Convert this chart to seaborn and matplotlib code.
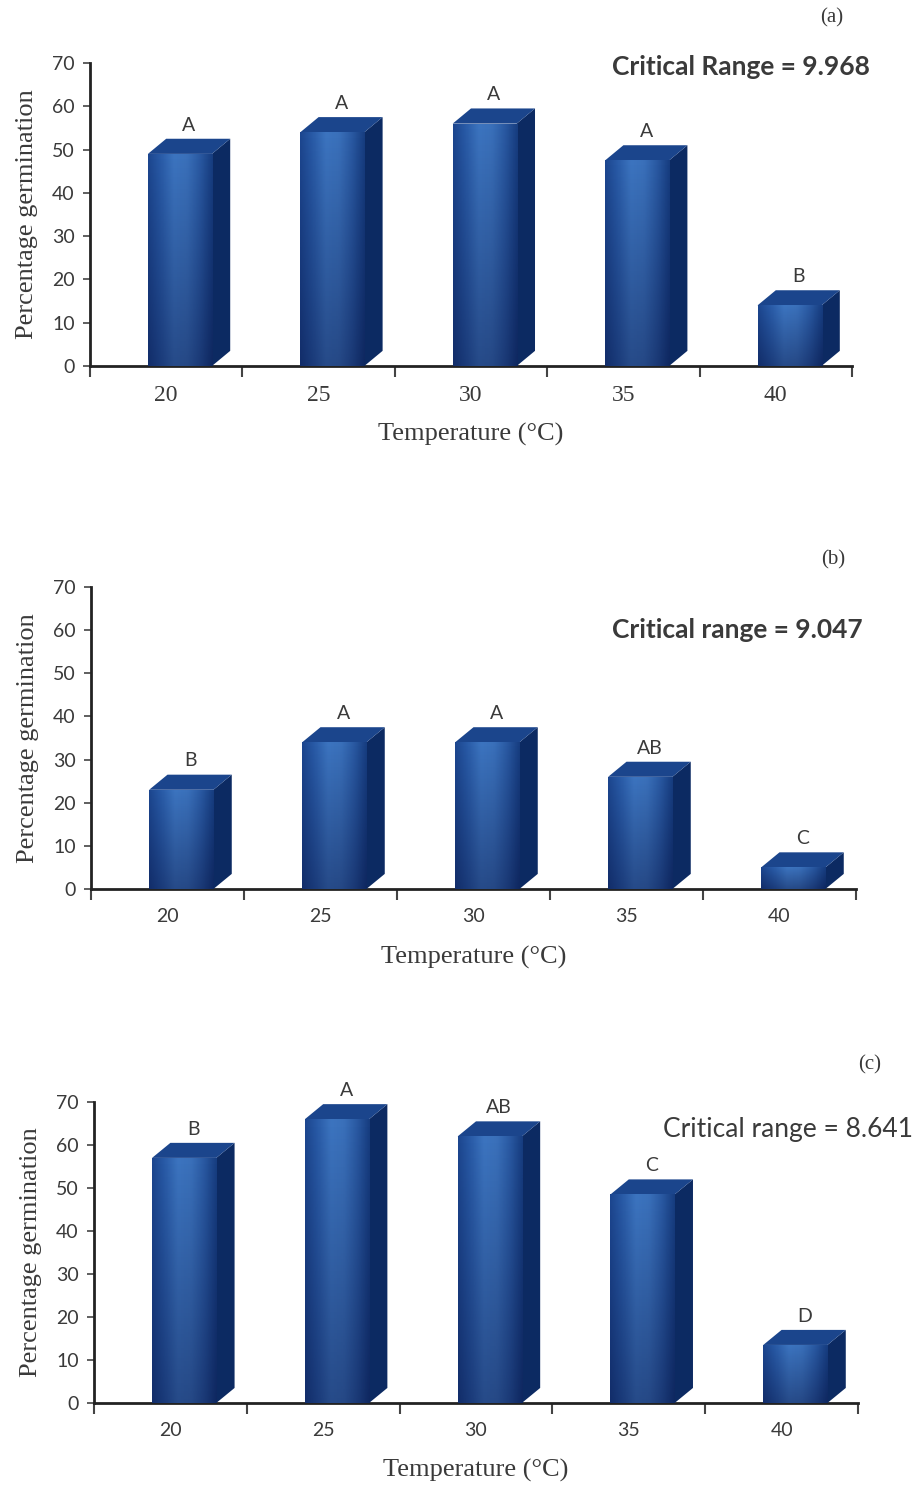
import numpy as np
import pandas as pd
import matplotlib
matplotlib.use("Agg")
import matplotlib.pyplot as plt
from matplotlib.patches import Polygon
from matplotlib.colors import LinearSegmentedColormap
import seaborn as sns

# ---- data ----
temperatures = ["20", "25", "30", "35", "40"]
germ_a = [49, 54, 56, 47.5, 14]
germ_b = [23, 34, 34, 26, 5]
germ_c = [57, 66, 62, 48.5, 13.5]
letters_a = ["A", "A", "A", "A", "B"]
letters_b = ["B", "A", "A", "AB", "C"]
letters_c = ["B", "A", "AB", "C", "D"]
panel_tags = ["(a)", "(b)", "(c)"]
critical_texts = ["Critical Range = 9.968", "Critical range = 9.047", "Critical range = 8.641"]
y_ticks = [0, 10, 20, 30, 40, 50, 60, 70]

sns.set_theme(style="white")
plt.rcParams['font.family'] = ['DejaVu Sans']

FRONT = "#2b5da8"
SIDE = "#0c2a62"
TOP = "#1b458c"
TXT = "#3a3a3a"
SERIF = "Liberation Serif"
SANS = "Lato"

front_cmap = LinearSegmentedColormap.from_list(
    "front", ["#1c468f", "#2a5ca8", "#3c74bf", "#3a70ba", "#2a5aa3", "#173d80"])

fig = plt.figure(figsize=(9.16, 14.86), dpi=100)
fig.patch.set_facecolor("white")

W, H = 916, 1486
boxes = [(90, 852, 366, 63), (91, 856, 889, 587), (94, 858, 1403, 1102)]
datasets = [germ_a, germ_b, germ_c]
letters = [letters_a, letters_b, letters_c]
tag_pos = [(832, 18), (833, 560), (870, 1065)]
crit_pos = [(741, 67), (737, 630), (788, 1130)]
crit_bold = [True, True, False]
serif_xticks = [True, False, False]
xlabel_pads = [12, 15, 14]

for i in range(3):
    l, r, y0, y70 = boxes[i]
    ax = fig.add_axes([l / W, 1 - y0 / H, (r - l) / W, (y0 - y70) / H])
    df = pd.DataFrame({"Temperature": temperatures, "Germination": datasets[i]})
    sns.barplot(data=df, x="Temperature", y="Germination", ax=ax, color=FRONT,
                width=0.42, saturation=1, edgecolor="none", zorder=3)
    dx = 0.12
    dy = 3.5
    shift = 0.09
    for p, lab in zip(list(ax.patches), letters[i]):
        p.set_x(p.get_x() + shift)
        x0 = p.get_x()
        w = p.get_width()
        h = p.get_height()
        side = Polygon([[x0 + w, 0], [x0 + w + dx, dy], [x0 + w + dx, h + dy], [x0 + w, h]],
                       closed=True, facecolor=SIDE, edgecolor="none", zorder=3)
        top = Polygon([[x0, h], [x0 + dx, h + dy], [x0 + w + dx, h + dy], [x0 + w, h]],
                      closed=True, facecolor=TOP, edgecolor="none", zorder=3)
        ax.add_patch(side)
        ax.add_patch(top)
        # horizontal gradient on the front face, darkening toward the base
        gx = np.linspace(0, 1, 64)
        gy = np.linspace(0, 1, 32)[:, None]
        grad = gx[None, :] * np.ones_like(gy)
        im = ax.imshow(grad, extent=[x0, x0 + w, 0, h], cmap=front_cmap, aspect="auto",
                       origin="lower", zorder=3.2, interpolation="bilinear")
        im.set_clip_path(p)
        shade = np.linspace(0.35, 0.0, 32)[:, None] * np.ones((1, 8))
        im2 = ax.imshow(np.dstack([np.zeros_like(shade), np.zeros_like(shade),
                                   np.full_like(shade, 0.15), shade]),
                        extent=[x0, x0 + w, 0, h], aspect="auto", origin="lower",
                        zorder=3.3, interpolation="bilinear")
        im2.set_clip_path(p)
        ax.text(x0 + w / 2 + dx / 2, h + dy + 1.2, lab, ha="center", va="bottom",
                fontsize=14, color=TXT, family=SANS)

    ax.set_xlim(-0.5, 4.5)
    ax.set_ylim(0, 70)
    for s in ["top", "right"]:
        ax.spines[s].set_visible(False)
    for s in ["left", "bottom"]:
        ax.spines[s].set_color("#222222")
        ax.spines[s].set_linewidth(2)
    ax.set_yticks(y_ticks)
    ax.set_yticklabels([str(t) for t in y_ticks], family=SANS, fontsize=14, color=TXT)
    ax.tick_params(axis="y", which="major", direction="out", length=5, width=1.2,
                   color="#444444", left=True, pad=6)
    ax.set_xticks(range(len(temperatures)))
    if serif_xticks[i]:
        ax.set_xticklabels(temperatures, family=SERIF, fontsize=17, color=TXT)
    else:
        ax.set_xticklabels(temperatures, family=SANS, fontsize=14, color=TXT)
    ax.tick_params(axis="x", which="major", length=0, pad=14)
    ax.set_xticks(np.arange(-0.5, 5.0, 1.0), minor=True)
    ax.tick_params(axis="x", which="minor", direction="out", length=8, width=1.5,
                   color="#444444", bottom=True)
    ax.set_xlabel("Temperature (°C)", family=SERIF, fontsize=19, color=TXT,
                  labelpad=xlabel_pads[i])
    ax.set_ylabel("Percentage germination", family=SERIF, fontsize=19, color=TXT)
    ax.yaxis.set_label_coords(-0.068, 0.5)
    ax.set_facecolor("white")
    ax.grid(False)

    tx, ty = tag_pos[i]
    fig.text(tx / W, 1 - ty / H, panel_tags[i], family=SERIF, fontsize=15, color=TXT,
             ha="center", va="center")
    cx, cy = crit_pos[i]
    fig.text(cx / W, 1 - cy / H, critical_texts[i], family=SANS, fontsize=19,
             color=TXT, ha="center", va="center",
             fontweight="bold" if crit_bold[i] else "normal")

fig.savefig("out.png", dpi=100, facecolor="white")
